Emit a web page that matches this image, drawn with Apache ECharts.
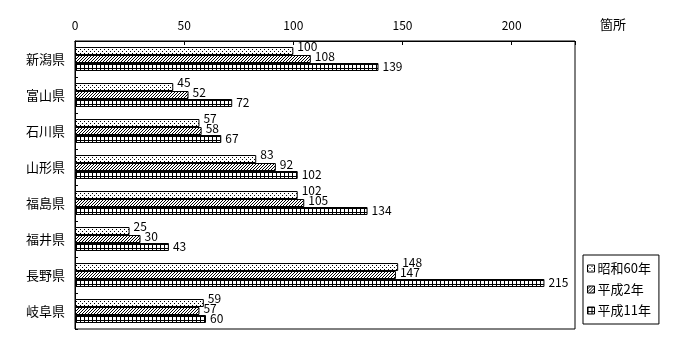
<!DOCTYPE html>
<html>
<head>
<meta charset="utf-8">
<script src="https://cdn.jsdelivr.net/npm/echarts@6/dist/echarts.min.js"></script>
<style>
html,body{margin:0;padding:0;background:#fff;}
#chart{width:700px;height:360px;}
</style>
</head>
<body>
<div id="chart"></div>
<script>
const categories = ['新潟県','富山県','石川県','山形県','福島県','福井県','長野県','岐阜県'];
const seriesNames = ['昭和60年','平成2年','平成11年'];
const s60 = [100, 45, 57, 83, 102, 25, 148, 59];
const h2 = [108, 52, 58, 92, 105, 30, 147, 57];
const h11 = [139, 72, 67, 102, 134, 43, 215, 60];
const xTicks = [0, 50, 100, 150, 200];
const unitLabel = '箇所';

function makePattern(size, pixels) {
  const c = document.createElement('canvas');
  c.width = size; c.height = size;
  const ctx = c.getContext('2d');
  ctx.fillStyle = '#fff';
  ctx.fillRect(0, 0, size, size);
  ctx.fillStyle = '#000';
  pixels.forEach(p => ctx.fillRect(p[0], p[1], 1, 1));
  return { image: c, repeat: 'repeat' };
}
const dots = makePattern(4, [[0,1],[2,3]]);
const hatch = makePattern(3, [[2,0],[1,1],[0,2]]);
const gridPix = [];
for (let i = 0; i < 4; i++) { gridPix.push([i,0]); gridPix.push([0,i]); }
const gridPat = makePattern(4, gridPix);

const font = '"Noto Sans CJK JP", sans-serif';
const chart = echarts.init(document.getElementById('chart'), null, {renderer: 'canvas'});

function mkSeries(name, data, fill, dy) {
  return {
    name: name, type: 'bar', data: data,
    barWidth: 8, barGap: '0%',
    itemStyle: { color: fill, borderColor: '#000', borderWidth: 1 },
    label: { show: true, position: 'right', distance: 4, offset: [0, dy],
      color: '#000', fontSize: 12, fontFamily: font },
    emphasis: { disabled: true },
    animation: false
  };
}

chart.setOption({
  animation: false,
  grid: { left: 75, right: 125, top: 41, bottom: 31, show: true, borderColor: '#000', borderWidth: 1, containLabel: false },
  xAxis: {
    type: 'value', position: 'top', min: 0, max: 229, interval: 50,
    axisLine: { show: true, lineStyle: { color: '#000', width: 1 } },
    axisTick: { show: true, inside: true, length: 4, lineStyle: { color: '#000' } },
    axisLabel: { color: '#000', fontSize: 12, fontFamily: font, margin: 10,
      formatter: v => xTicks.indexOf(v) >= 0 ? String(v) : '' },
    splitLine: { show: false }
  },
  yAxis: {
    type: 'category', data: categories, inverse: true,
    axisLine: { show: true, lineStyle: { color: '#000', width: 1 } },
    axisTick: { show: true, inside: true, length: 3, lineStyle: { color: '#000' } },
    axisLabel: { color: '#000', fontSize: 13, fontFamily: font, margin: 10 }
  },
  legend: {
    orient: 'vertical', left: 583, top: 255,
    data: seriesNames,
    borderColor: '#000', borderWidth: 1, borderRadius: 0,
    padding: [7, 8, 7, 4], itemGap: 8, itemWidth: 7, itemHeight: 7,
    icon: 'rect',
    itemStyle: { borderColor: '#000', borderWidth: 1 },
    textStyle: { color: '#000', fontSize: 13, fontFamily: font, padding: [0,0,0,-2] }
  },
  graphic: [{
    type: 'text', left: 600, top: 18,
    style: { text: unitLabel, fill: '#000', font: '13px ' + font }
  }],
  series: [
    mkSeries(seriesNames[0], s60, dots, -5),
    mkSeries(seriesNames[1], h2, hatch, -3),
    mkSeries(seriesNames[2], h11, gridPat, -1)
  ]
});
</script>
</body>
</html>
